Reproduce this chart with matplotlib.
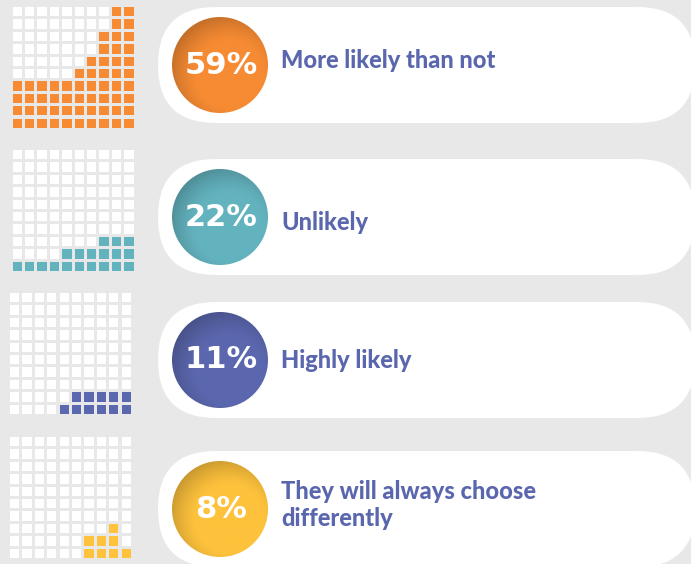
import numpy as np
import matplotlib
matplotlib.use("Agg")
import matplotlib.pyplot as plt
from matplotlib.patches import Rectangle, FancyBboxPatch, Circle
from matplotlib.colors import to_rgb

# ---- data ----
labels = ["More likely than not", "Unlikely", "Highly likely",
          "They will always choose\ndifferently"]
percents = [59, 22, 11, 8]
# filled squares per column (from bottom) of each 10x10 waffle
column_heights = [
    [4, 4, 4, 4, 4, 5, 6, 8, 10, 10],
    [1, 1, 1, 1, 2, 2, 2, 3, 3, 3],
    [0, 0, 0, 0, 1, 2, 2, 2, 2, 2],
    [0, 0, 0, 0, 0, 0, 2, 2, 3, 1],
]
colors = ["#f68b33", "#63b3bf", "#5b67ae", "#fec23c"]

# ---- layout (pixels) ----
W, H = 691, 564
bg = "#e8e8e8"
text_col = "#5a66ad"
grid_origin = [(12.7, 7), (12.7, 150), (10, 293), (10, 437)]
pitch, sq = 12.4, 9.3
pill_top = [7, 159, 302, 451]
pill_h = 116
circle_cx, circle_r = 220, 48
circle_cy = [65, 217, 360, 509]
label_y = [61, 223, 361, 505]

fig = plt.figure(figsize=(W / 100, H / 100), dpi=100, facecolor=bg)
ax = fig.add_axes([0, 0, 1, 1])
ax.set_xlim(0, W)
ax.set_ylim(H, 0)
ax.axis("off")
ax.set_facecolor(bg)

for i in range(len(labels)):
    col = colors[i]
    gx, gy = grid_origin[i]
    # waffle
    for c in range(10):
        h = column_heights[i][c]
        for r in range(10):  # r=0 bottom row
            filled = r < h
            x = gx + c * pitch
            y = gy + (9 - r) * pitch
            ax.add_patch(Rectangle((x, y), sq, sq, facecolor=col if filled else "white",
                                   edgecolor="none"))
    # pill
    ax.add_patch(FancyBboxPatch((158, pill_top[i]), 695 - 158, pill_h,
                                boxstyle=f"round,pad=0,rounding_size={pill_h/2}",
                                facecolor="white", edgecolor="none"))
    # gradient circle
    cy = circle_cy[i]
    n = 200
    yy, xx = np.mgrid[-1:1:n * 1j, -1:1:n * 1j]
    d = np.sqrt((xx - 0.2) ** 2 + (yy - 0.2) ** 2)
    f = np.clip((d - 0.7) / 0.6, 0, 1) ** 1.3 * 0.22
    base = np.array(to_rgb(col))
    img = base[None, None, :] * (1 - f[..., None])
    circ = Circle((circle_cx, cy), circle_r, facecolor="none", edgecolor="none")
    ax.add_patch(circ)
    im = ax.imshow(img, extent=[circle_cx - circle_r, circle_cx + circle_r,
                                cy + circle_r, cy - circle_r],
                   origin="upper", interpolation="bilinear", zorder=3)
    im.set_clip_path(circ)
    ax.text(circle_cx + 1, cy, f"{percents[i]}%", color="white", fontsize=22,
            fontweight="bold", ha="center", va="center", zorder=4,
            family="DejaVu Sans")
    ax.text(281, label_y[i], labels[i], color=text_col, fontsize=17,
            fontweight=900, ha="left", va="center", zorder=4,
            family="Lato", linespacing=1.25)

ax.set_xlim(0, W)
ax.set_ylim(H, 0)
fig.savefig("out.png", dpi=100, facecolor=bg)
